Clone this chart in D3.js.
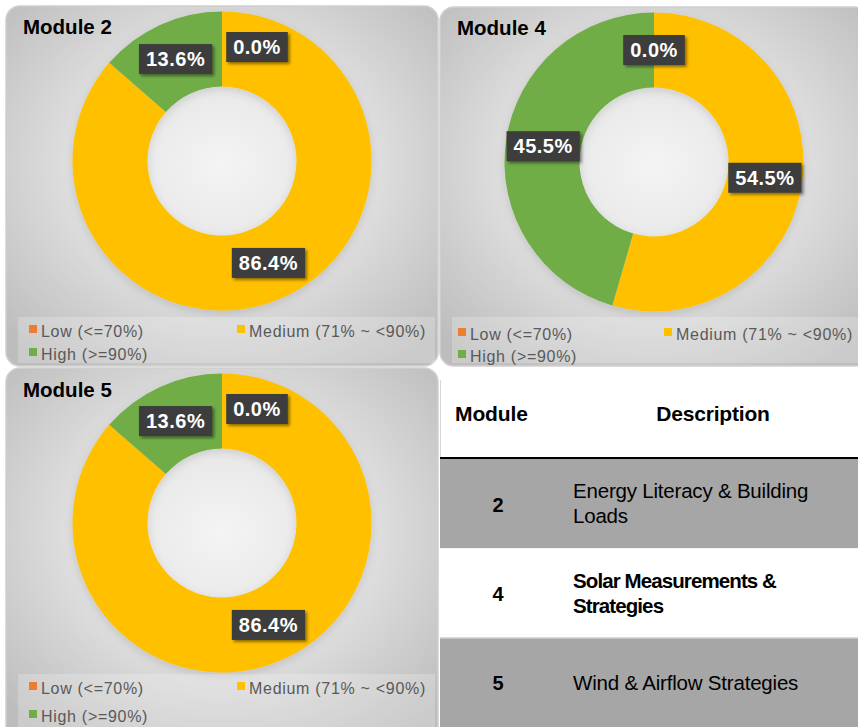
<!DOCTYPE html>
<html><head><meta charset="utf-8">
<script src="https://cdn.jsdelivr.net/npm/d3@7"></script>
<style>
html,body{margin:0;padding:0;background:#fff;}
svg{display:block;font-family:"Liberation Sans",Arial,sans-serif;}
</style></head>
<body>
<svg id="chart" width="858" height="727"></svg>
<script>
// ---- data ----
const categories = ["Low (<=70%)", "Medium (71% ~ <90%)", "High (>=90%)"];
const categoryColors = ["#ED7D31", "#FFC000", "#70AD47"];
const chartTitles = ["Module 2", "Module 4", "Module 5"];
const module2Values = [0.0, 86.4, 13.6];
const module4Values = [0.0, 54.5, 45.5];
const module5Values = [0.0, 86.4, 13.6];
const tableHeader = ["Module", "Description"];
const tableModules = ["2", "4", "5"];
const tableDescriptions = [
  ["Energy Literacy & Building", "Loads"],
  ["Solar Measurements &", "Strategies"],
  ["Wind & Airflow Strategies"]
];

// ---- layout ----
const svg = d3.select("#chart");
const defs = svg.append("defs");
const grad = defs.append("radialGradient").attr("id","bg").attr("cx","50%").attr("cy","44%").attr("r","68%");
grad.append("stop").attr("offset","0").attr("stop-color","#f4f4f4");
grad.append("stop").attr("offset","0.45").attr("stop-color","#e3e3e3");
grad.append("stop").attr("offset","1").attr("stop-color","#bdbdbd");
const sh = defs.append("filter").attr("id","shadow").attr("x","-20%").attr("y","-20%").attr("width","150%").attr("height","160%");
sh.append("feDropShadow").attr("dx",2).attr("dy",2).attr("stdDeviation",1.8).attr("flood-color","#000").attr("flood-opacity",0.45);
const dsh = defs.append("filter").attr("id","dshadow").attr("x","-20%").attr("y","-20%").attr("width","140%").attr("height","140%");
dsh.append("feDropShadow").attr("dx",0).attr("dy",3).attr("stdDeviation",4).attr("flood-color","#000").attr("flood-opacity",0.12);

const panels = [
  {x:6, y:6, w:432, h:360, values:module2Values, title:chartTitles[0], legY:[331,354], legBox:311, legX:[23,231], titleY:28},
  {x:440, y:7, w:428, h:359, values:module4Values, title:chartTitles[1], legY:[333,355], legBox:310, legX:[18,224], titleY:28},
  {x:6, y:368, w:432, h:372, values:module5Values, title:chartTitles[2], legY:[326,354], legBox:306, legX:[23,231], titleY:29}
];
const outerR = 149.5, innerR = 74.5, cyOff = 155;

panels.forEach(p => {
  const g = svg.append("g").attr("transform", `translate(${p.x},${p.y})`);
  g.append("rect").attr("width",p.w).attr("height",p.h).attr("rx",14).attr("ry",14)
    .attr("fill","url(#bg)").attr("stroke","#cfcfcf").attr("stroke-width",1.5);
  g.append("text").attr("x",17).attr("y",p.titleY).attr("font-size",20.5).attr("font-weight","bold")
    .attr("fill","#000").text(p.title);

  const cx = p.w/2, cy = cyOff;
  const pie = d3.pie().sort(null).value(d=>d.v);
  const arcs = pie(p.values.map((v,i)=>({v, i})));
  const arc = d3.arc().innerRadius(innerR).outerRadius(outerR);
  const dg = g.append("g").attr("transform",`translate(${cx},${cy})`).attr("filter","url(#dshadow)");
  dg.selectAll("path").data(arcs).join("path")
    .attr("d",arc).attr("fill",d=>categoryColors[d.data.i]);

  // labels
  const mid = (innerR+outerR)/2;
  const labArc = d3.arc().innerRadius(mid).outerRadius(mid);
  const lg = g.append("g").attr("transform",`translate(${cx},${cy})`);
  const labels = arcs.map(a => {
    const [x,y] = labArc.centroid(a);
    const txt = d3.format(".1f")(a.data.v) + "%";
    return {x, y, txt, v:a.data.v};
  });
  labels.forEach(l => {
    const t = lg.append("text").attr("font-size",20).attr("font-weight","bold").attr("letter-spacing",0.5).text(l.txt);
    l.w = t.node().getComputedTextLength() + 14; l.h = 30; t.remove();
  });
  // simple overlap avoidance: move smaller-valued label horizontally
  for (let i=0;i<labels.length;i++) for (let j=0;j<labels.length;j++) {
    if (i===j) continue;
    const a = labels[i], b = labels[j];
    if (a.v >= b.v) continue;
    const ox = (a.w+b.w)/2 - Math.abs(a.x-b.x), oy = (a.h+b.h)/2 - Math.abs(a.y-b.y);
    if (ox>0 && oy>0) {
      const dir = a.x >= b.x ? 1 : -1;
      a.x = b.x + dir*((a.w+b.w)/2 + 14);
      a.y -= 2;
    }
  }
  labels.forEach(l => {
    lg.append("rect").attr("x",l.x-l.w/2).attr("y",l.y-l.h/2).attr("width",l.w).attr("height",l.h)
      .attr("fill","#3d3d3d").attr("filter","url(#shadow)");
    lg.append("text").attr("x",l.x).attr("y",l.y+7).attr("text-anchor","middle")
      .attr("font-size",20).attr("font-weight","bold").attr("letter-spacing",0.5).attr("fill","#fff").text(l.txt);
  });

  // legend
  g.append("rect").attr("x",12).attr("y",p.legBox).attr("width",p.w-15).attr("height",p.h-p.legBox-3)
    .attr("fill","#ffffff").attr("opacity",0.22);
  const pos = [[p.legX[0],p.legY[0]],[p.legX[1],p.legY[0]],[p.legX[0],p.legY[1]]];
  categories.forEach((c,i) => {
    const [lx,ly] = pos[i];
    g.append("rect").attr("x",lx).attr("y",ly-12).attr("width",8).attr("height",8).attr("fill",categoryColors[i]);
    g.append("text").attr("x",lx+12).attr("y",ly).attr("font-size",16).attr("letter-spacing",0.7)
      .attr("fill","#595959").text(c);
  });
});

// ---- table ----
const tx = 440, tw = 418;
const tg = svg.append("g");
tg.append("line").attr("x1",tx+0.5).attr("x2",tx+0.5).attr("y1",380).attr("y2",458).attr("stroke","#d6d6d6");
tg.append("text").attr("x",455).attr("y",421).attr("font-size",21).attr("font-weight","bold").attr("letter-spacing",-0.1).text(tableHeader[0]);
tg.append("text").attr("x",713).attr("y",421).attr("text-anchor","middle").attr("font-size",21).attr("font-weight","bold").attr("letter-spacing",-0.2).text(tableHeader[1]);
const rowY = d3.scaleBand().domain(tableModules).range([459,727]);
tableModules.forEach((m,i) => {
  const y0 = rowY(m), h = rowY.bandwidth(), c = y0 + h/2;
  tg.append("rect").attr("x",tx).attr("y",y0).attr("width",tw).attr("height",h)
    .attr("fill", i%2===0 ? "#a6a6a6" : "#ffffff");
  tg.append("text").attr("x",498).attr("y",c+8).attr("text-anchor","middle").attr("font-size",20).attr("font-weight","bold").text(m);
  const lines = tableDescriptions[i];
  lines.forEach((t,k) => {
    const by = lines.length === 1 ? c+8 : c - 5.5 + k*25;
    tg.append("text").attr("x",573).attr("y",by).attr("font-size",20.5)
      .attr("font-weight", i===1 ? "bold" : "normal").attr("letter-spacing", i===1 ? -0.9 : -0.2)
      .attr("fill","#000").text(t);
  });
});
tg.append("line").attr("x1",tx).attr("x2",858).attr("y1",458).attr("y2",458).attr("stroke","#000").attr("stroke-width",2);
tg.append("line").attr("x1",tx).attr("x2",858).attr("y1",rowY("5")+0.5).attr("y2",rowY("5")+0.5).attr("stroke","#d0d0d0");
</script>
</body></html>
